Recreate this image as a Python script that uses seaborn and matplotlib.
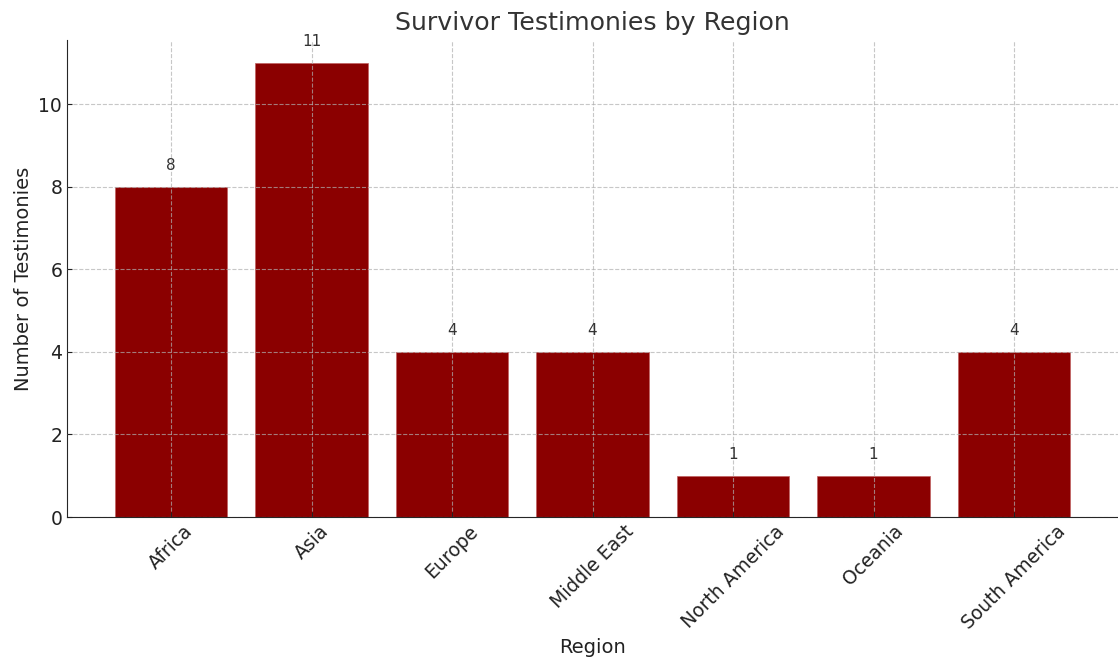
import matplotlib
matplotlib.use("Agg")
import matplotlib.pyplot as plt
import seaborn as sns
import pandas as pd

regions = ["Africa", "Asia", "Europe", "Middle East", "North America", "Oceania", "South America"]
counts = [8, 11, 4, 4, 1, 1, 4]

sns.set_style("ticks")
plt.rcParams["font.family"] = ["DejaVu Sans"]

df = pd.DataFrame({"Region": regions, "Count": counts})

fig = plt.figure(figsize=(11.18, 6.62), dpi=100)
ax = fig.add_axes([0.06, 0.219, 0.94, 0.7206])

sns.barplot(data=df, x="Region", y="Count", color="#8B0000", saturation=1,
            width=0.8, ax=ax, edgecolor="#c06060", linewidth=0.5)

ax.set_axisbelow(False)
ax.grid(True, linestyle="--", color="#b0b0b0", alpha=0.7, linewidth=0.8)
ax.set_xlim(-0.74, 6.74)
ax.set_ylim(0, 11.55)
ax.set_yticks([0, 2, 4, 6, 8, 10])

for c in ax.containers:
    ax.bar_label(c, labels=[str(v) for v in counts], padding=10, fontsize=11, color="#333333")

ax.set_title("Survivor Testimonies by Region", fontsize=18.2, color="#333333", pad=7.5)
ax.set_xlabel("Region", fontsize=14, color="#222222")
ax.set_ylabel("Number of Testimonies", fontsize=14, color="#222222")
ax.tick_params(axis="both", direction="in", labelsize=13.5, colors="#222222")
plt.setp(ax.get_xticklabels(), rotation=45)
for s in ["top", "right"]:
    ax.spines[s].set_visible(False)

fig.savefig("out.png", dpi=100)
